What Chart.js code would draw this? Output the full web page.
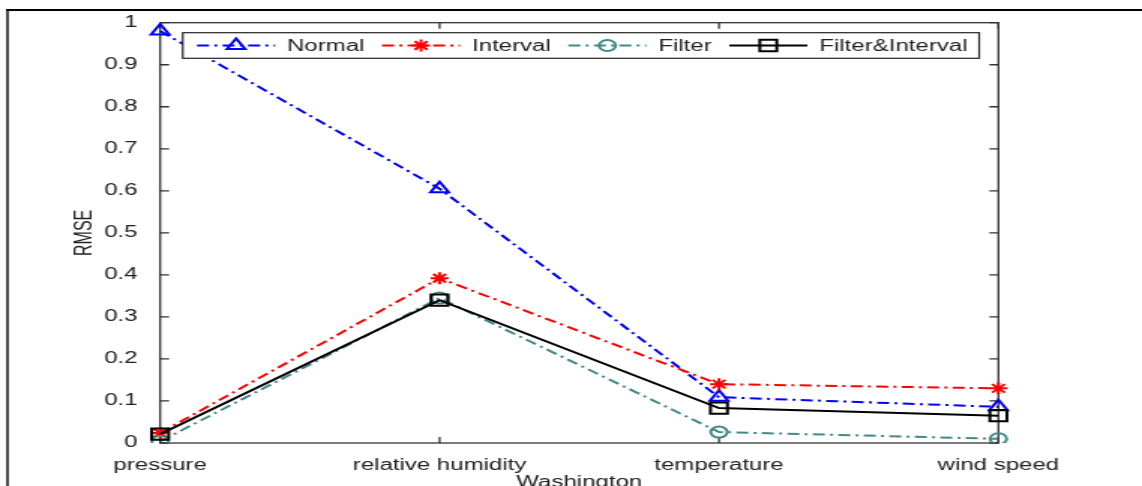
<!DOCTYPE html>
<html>
<head>
<meta charset="utf-8">
<script src="https://cdn.jsdelivr.net/npm/chart.js@4.4.1/dist/chart.umd.min.js"></script>
<style>
  html, body { margin: 0; padding: 0; background: #fff; overflow: hidden; }
</style>
</head>
<body>
<!-- drawn narrow and stretched wide, like the original figure -->
<canvas id="chart" width="761" height="500" style="display:block;width:1142px;height:500px"></canvas>
<script>
const categories = ['pressure', 'relative humidity', 'temperature', 'wind speed'];
const normal = [0.98, 0.605, 0.109, 0.086];
const interval = [0.024, 0.392, 0.14, 0.13];
const filter = [0.004, 0.345, 0.026, 0.01];
const filterInterval = [0.021, 0.34, 0.083, 0.065];
const seriesNames = ['Normal', 'Interval', 'Filter', 'Filter&Interval'];
const xTitle = 'Washington';
const yTitle = 'RMSE';

const textColor = '#222';
const font = { family: "'Liberation Sans', Arial, sans-serif", size: 16 };
const dashDot = [8, 3.5, 2, 3.5];

// outer figure frame (top and left only)
const frame = {
  id: 'frame',
  beforeDraw(chart) {
    const ctx = chart.ctx;
    ctx.save();
    ctx.fillStyle = '#fff';
    ctx.fillRect(0, 0, chart.width, chart.height);
    ctx.strokeStyle = '#000';
    ctx.lineWidth = 2;
    ctx.beginPath();
    ctx.moveTo(4, 10);
    ctx.lineTo(chart.width, 10);
    ctx.stroke();
    ctx.lineWidth = 1.4;
    ctx.beginPath();
    ctx.moveTo(5, 9);
    ctx.lineTo(5, chart.height);
    ctx.stroke();
    ctx.restore();
  }
};

// boxed axes with inward ticks
const axesBox = {
  id: 'axesBox',
  beforeDatasetsDraw(chart) {
    const { ctx, chartArea: a, scales: { x, y } } = chart;
    ctx.save();
    ctx.strokeStyle = '#333';
    ctx.lineWidth = 1.3;
    ctx.strokeRect(a.left, a.top, a.right - a.left, a.bottom - a.top);
    ctx.beginPath();
    y.ticks.forEach((t, i) => {
      const py = y.getPixelForTick(i);
      ctx.moveTo(a.left, py); ctx.lineTo(a.left + 6, py);
      ctx.moveTo(a.right, py); ctx.lineTo(a.right - 6, py);
    });
    x.ticks.forEach((t, i) => {
      const px = x.getPixelForTick(i);
      ctx.moveTo(px, a.bottom); ctx.lineTo(px, a.bottom - 6);
      ctx.moveTo(px, a.top); ctx.lineTo(px, a.top + 6);
    });
    ctx.stroke();
    ctx.restore();
  }
};

// MATLAB-like legend box: line sample, marker, label
const legendBox = {
  id: 'legendBox',
  afterDatasetsDraw(chart) {
    const ctx = chart.ctx;
    const left = 121.8, top = 32.7, right = 652.5, bottom = 58.3;
    const midY = (top + bottom) / 2;
    ctx.save();
    ctx.fillStyle = '#fff';
    ctx.fillRect(left, top, right - left, bottom - top);
    ctx.strokeStyle = '#222';
    ctx.lineWidth = 1.2;
    ctx.strokeRect(left, top, right - left, bottom - top);
    ctx.font = `${font.size}px ${font.family}`;
    ctx.textBaseline = 'middle';
    let x = left + 9.5;
    chart.data.datasets.forEach(ds => {
      ctx.strokeStyle = ds.borderColor;
      ctx.lineWidth = ds.borderWidth;
      ctx.setLineDash(ds.borderDash || []);
      ctx.beginPath();
      ctx.moveTo(x, midY);
      ctx.lineTo(x + 52, midY);
      ctx.stroke();
      ctx.setLineDash([]);
      ctx.fillStyle = ds.pointBackgroundColor;
      ctx.strokeStyle = ds.pointBorderColor;
      ctx.lineWidth = ds.pointBorderWidth;
      Chart.helpers.drawPoint(ctx, {
        pointStyle: ds.pointStyle, radius: ds.pointRadius, rotation: 0, borderWidth: ds.pointBorderWidth
      }, x + 26, midY);
      ctx.fillStyle = textColor;
      ctx.fillText(ds.label, x + 60, midY + 1);
      x += 60 + ctx.measureText(ds.label).width + 11.7;
    });
    ctx.restore();
  }
};

function series(label, data, color, style, radius, dash, fill, order) {
  return {
    label, data, order,
    borderColor: color,
    borderWidth: 2,
    borderDash: dash,
    fill: false,
    tension: 0,
    pointStyle: style,
    pointRadius: radius,
    pointBorderColor: color,
    pointBackgroundColor: fill,
    pointBorderWidth: 2
  };
}

new Chart(document.getElementById('chart'), {
  type: 'line',
  data: {
    labels: categories,
    datasets: [
      series(seriesNames[0], normal, '#0000ff', 'triangle', 7, dashDot, 'rgba(0,0,0,0)', 4),
      series(seriesNames[1], interval, '#ff0000', 'star', 6, dashDot, '#ff0000', 3),
      series(seriesNames[2], filter, '#448888', 'circle', 5.5, dashDot, 'rgba(0,0,0,0)', 2),
      series(seriesNames[3], filterInterval, '#000000', 'rect', 8, [], 'rgba(0,0,0,0)', 1)
    ]
  },
  options: {
    responsive: false,
    animation: false,
    devicePixelRatio: 1,
    layout: { padding: { left: 46.7, right: 95.7, top: 22.7, bottom: 0 } },
    plugins: { legend: { display: false }, tooltip: { enabled: false } },
    scales: {
      x: {
        type: 'category',
        offset: false,
        grid: { display: false },
        border: { display: false },
        ticks: { font, color: textColor, padding: 5, maxRotation: 0, autoSkip: false },
        title: { display: true, text: xTitle, font, color: textColor, padding: { top: 0, bottom: 8 } },
        afterFit(s) { s.height = 57; }
      },
      y: {
        min: 0,
        max: 1,
        grid: { display: false },
        border: { display: false },
        ticks: { stepSize: 0.1, padding: 7, font, color: textColor, callback: v => String(+v.toFixed(1)) },
        title: { display: true, text: yTitle, font, color: textColor, padding: { top: 0, bottom: 0 } },
        afterFit(s) { s.width = 60; }
      }
    }
  },
  plugins: [frame, axesBox, legendBox]
});
</script>
</body>
</html>
